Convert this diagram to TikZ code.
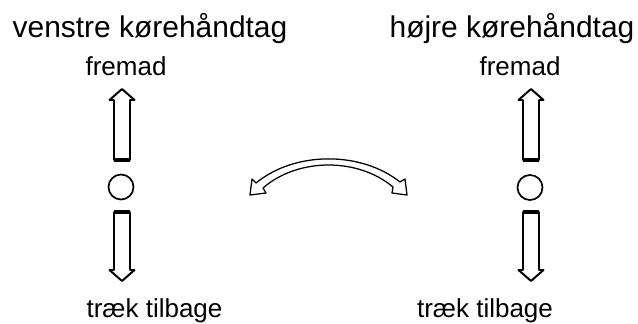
\documentclass[tikz,border=0pt]{standalone}
\usepackage{fontspec}
\setmainfont{Liberation Sans}
\usetikzlibrary{positioning}
\tikzset{
  heading/.style={font=\fontsize{21.3}{25}\selectfont, anchor=base, inner sep=0pt},
  dirlabel/.style={font=\fontsize{18.5}{22}\selectfont, anchor=base, inner sep=0pt},
  leverarrow/.style={draw=black, line width=1.4pt, line join=round, fill=white},
  knob/.style={draw=black, line width=1.2pt},
  swing/.style={draw=black, line width=0.9pt, line join=round, fill=white},
}
% one lever: up arrow, knob, down arrow around centre x = #1
\newcommand{\lever}[1]{
  \draw[leverarrow] (#1-8,160) -- (#1-8,100) -- (#1-12.5,100) -- (#1,89)
    -- (#1+12.5,100) -- (#1+8,100) -- (#1+8,160) -- cycle;
  \draw[line width=2.4pt] (#1-8,160) -- (#1+8,160);
  \draw[leverarrow] (#1-8,212) -- (#1-8,270) -- (#1-12.5,270) -- (#1,281)
    -- (#1+12.5,270) -- (#1+8,270) -- (#1+8,212) -- cycle;
  \draw[line width=2.4pt] (#1-8,212) -- (#1+8,212);
}

\begin{document}
\begin{tikzpicture}[x=0.025cm, y=-0.025cm]
  \useasboundingbox (0,0) rectangle (638,323);

  % titles
  \node[heading] (lefttitle)  at (150,37) {venstre kørehåndtag};
  \node[heading] (righttitle) at (512,37) {højre kørehåndtag};

  % direction labels
  \node[dirlabel] (leftfwd)   at (126,75)   {fremad};
  \node[dirlabel] (rightfwd)  at (520,75)   {fremad};
  \node[dirlabel] (leftback)  at (154.5,317.5) {træk tilbage};
  \node[dirlabel] (rightback) at (485,317.5)  {træk tilbage};

  % levers
  \lever{122}
  \lever{531}
  \draw[knob] (121,187) circle (12.5);
  \draw[knob] (530,187.5) circle (12.5);

  % swing arrow between the levers
  \draw[swing] (250,195) -- (266,193) -- (263,188)
    .. controls (298,157.5) and (358,157.5) .. (393,187)
    -- (392,193) -- (407,195) -- (405,179) -- (400,182)
    .. controls (361,151) and (295,151) .. (256,183)
    -- (252,179) -- cycle;
\end{tikzpicture}
\end{document}
